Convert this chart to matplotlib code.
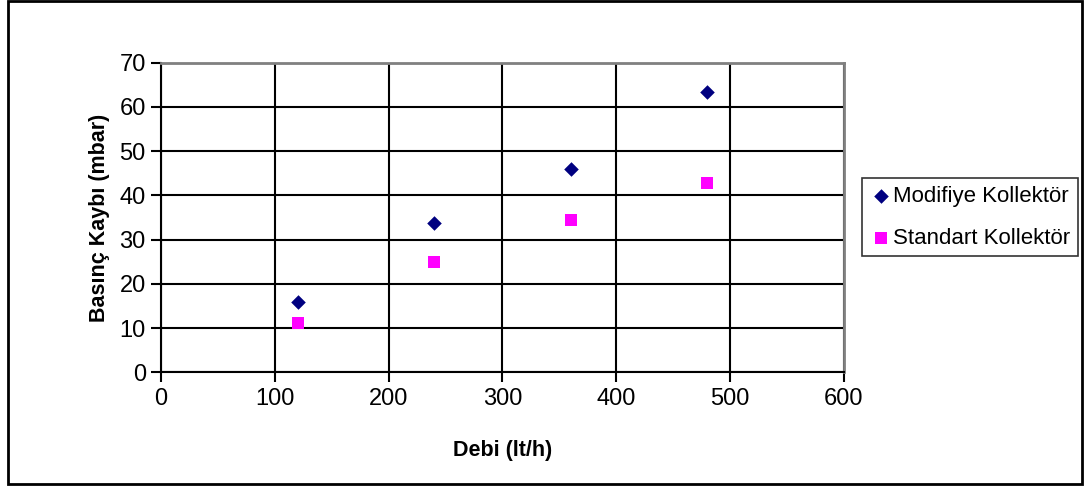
import matplotlib.pyplot as plt
from matplotlib.patches import Rectangle

plt.rcParams['font.family'] = ['Liberation Sans', 'DejaVu Sans']

# data
debi = [120, 240, 360, 480]
modifiye = [15.8, 33.7, 46.0, 63.4]
standart = [11.2, 24.9, 34.4, 42.9]

fig = plt.figure(figsize=(10.86, 4.88), dpi=100)
ax = fig.add_axes([0.1483, 0.2371, 0.6286, 0.6344])

ax.scatter(debi, modifiye, marker='D', s=55, color='#000080', linewidths=0,
           label='Modifiye Kollektör', zorder=3)
ax.scatter(debi, standart, marker='s', s=70, color='#FF00FF', linewidths=0,
           label='Standart Kollektör', zorder=3)

ax.set_xlim(0, 600)
ax.set_ylim(0, 70)
ax.set_xticks(range(0, 601, 100))
ax.set_yticks(range(0, 71, 10))
ax.grid(True, color='black', linewidth=1.5)
ax.set_axisbelow(True)
ax.tick_params(direction='out', length=7, width=1.5, labelsize=17, pad=4)

for side in ['left', 'bottom']:
    ax.spines[side].set_color('black')
    ax.spines[side].set_linewidth(1.5)
for side in ['top', 'right']:
    ax.spines[side].set_color('#808080')
    ax.spines[side].set_linewidth(2)

ax.set_xlabel('Debi (lt/h)', fontsize=15.5, fontweight='bold', labelpad=22)
ax.set_ylabel('Basınç Kaybı (mbar)', fontsize=15.5, fontweight='bold', labelpad=7)

leg = fig.legend(loc='center left', bbox_to_anchor=(0.794, 0.555), fontsize=16,
                 frameon=True, fancybox=False, edgecolor='black',
                 handletextpad=0.05, handlelength=1.0, borderpad=0.35,
                 labelspacing=0.95, borderaxespad=0)
leg.get_frame().set_linewidth(1.2)

# outer chart border
fig.patches.append(Rectangle((0.007, 0.008), 0.989, 0.99, transform=fig.transFigure,
                             fill=False, edgecolor='black', linewidth=2))

fig.savefig('out.png', dpi=100)
